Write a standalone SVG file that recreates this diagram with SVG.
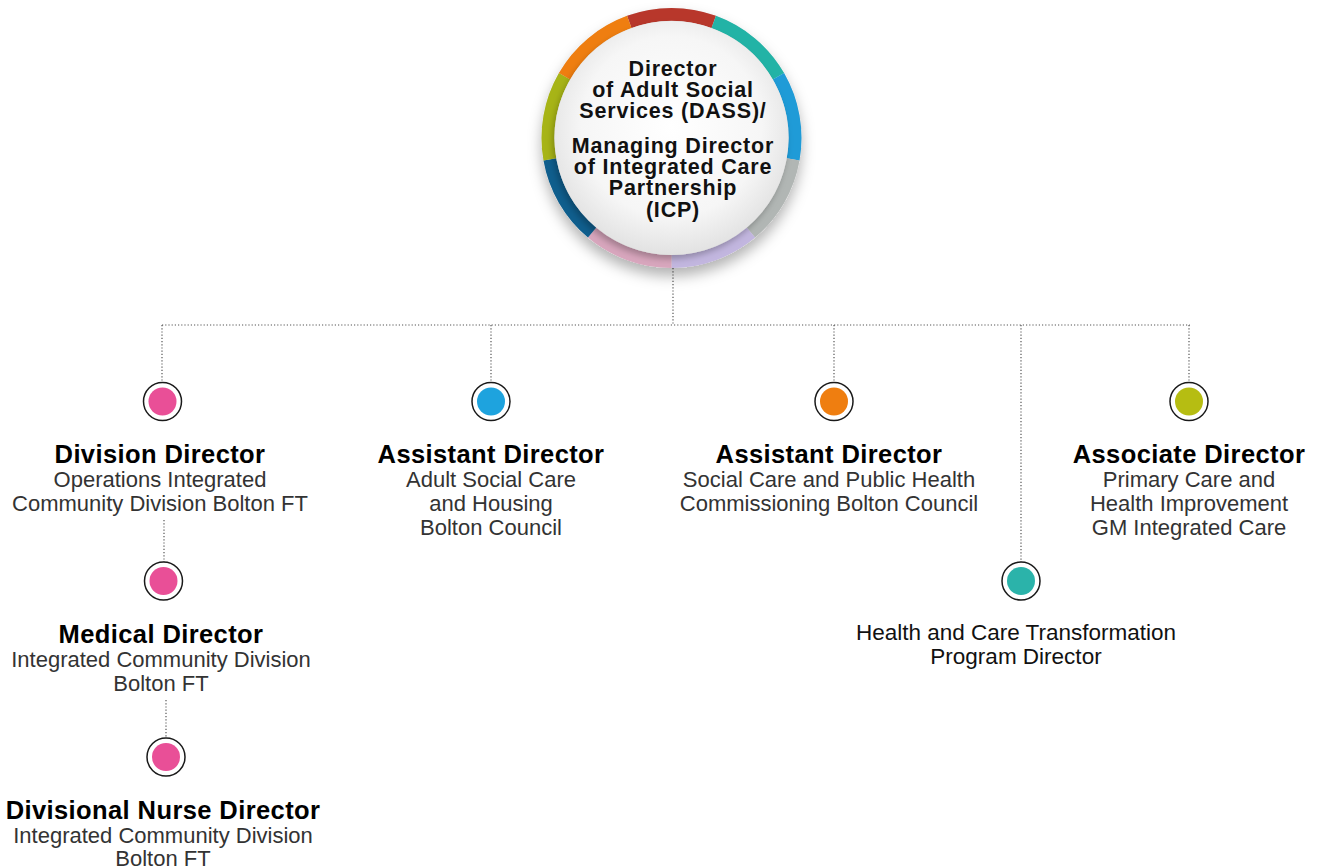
<svg xmlns="http://www.w3.org/2000/svg" width="1318" height="867" viewBox="0 0 1318 867">
  <defs>
    <style>
      .ttl { font-family: "Liberation Sans", Arial, sans-serif; font-weight: bold; font-size: 25.5px; letter-spacing: 0.4px; fill: #000; text-anchor: middle; }
      .sub { font-family: "Liberation Sans", Arial, sans-serif; font-size: 22px; fill: #333; text-anchor: middle; }
      .reg { font-family: "Liberation Sans", Arial, sans-serif; font-size: 22.5px; fill: #111; text-anchor: middle; }
      .hub { font-family: "Liberation Sans", Arial, sans-serif; font-weight: bold; font-size: 21.5px; letter-spacing: 0.8px; fill: #111; text-anchor: middle; }
      .dot { fill: none; stroke: #555; stroke-width: 1.2; stroke-dasharray: 1.2 2; }
      .ring { fill: none; stroke-width: 13; }
      .halo { fill: #fff; stroke: #1a1a1a; stroke-width: 1.5; }
    </style>
    <radialGradient id="face" cx="50%" cy="45%" r="55%">
      <stop offset="0" stop-color="#ffffff"/>
      <stop offset="0.7" stop-color="#f6f6f6"/>
      <stop offset="1" stop-color="#e2e2e2"/>
    </radialGradient>
    <filter id="shadow" x="-30%" y="-30%" width="160%" height="170%">
      <feDropShadow dx="0" dy="8" stdDeviation="7" flood-color="#000" flood-opacity="0.3"/>
    </filter>
    <filter id="innerShadow" x="-20%" y="-20%" width="140%" height="140%">
      <feDropShadow dx="-2" dy="4" stdDeviation="3" flood-color="#000" flood-opacity="0.25"/>
    </filter>
  </defs>

  <!-- connectors -->
  <g id="connectors">
    <line class="dot" x1="673" y1="268" x2="673" y2="325"/>
    <line class="dot" x1="162" y1="325" x2="1190" y2="325"/>
    <line class="dot" x1="162" y1="325" x2="162" y2="382"/>
    <line class="dot" x1="491" y1="325" x2="491" y2="382"/>
    <line class="dot" x1="834" y1="325" x2="834" y2="382"/>
    <line class="dot" x1="1021" y1="325" x2="1021" y2="562"/>
    <line class="dot" x1="1189" y1="325" x2="1189" y2="382"/>
    <line class="dot" x1="164" y1="520" x2="164" y2="562"/>
    <line class="dot" x1="166" y1="700" x2="166" y2="738"/>
  </g>

  <!-- central hub -->
  <g id="hub">
    <circle cx="671.5" cy="138" r="130" fill="#ddd" filter="url(#shadow)"/>
    <path class="ring" stroke="#b8372b" d="M629.26 21.95 A123.5 123.5 0 0 1 713.74 21.95"/>
    <path class="ring" stroke="#22b3a6" d="M713.74 21.95 A123.5 123.5 0 0 1 778.45 76.25"/>
    <path class="ring" stroke="#1f9bd7" d="M778.45 76.25 A123.5 123.5 0 0 1 793.13 159.44"/>
    <path class="ring" stroke="#b1b6b4" d="M793.13 159.44 A123.5 123.5 0 0 1 750.88 232.60"/>
    <path class="ring" stroke="#c2b6df" d="M750.88 232.60 A123.5 123.5 0 0 1 671.5 261.5"/>
    <path class="ring" stroke="#d8a6bd" d="M671.5 261.5 A123.5 123.5 0 0 1 592.12 232.60"/>
    <path class="ring" stroke="#0f5e8d" d="M592.12 232.60 A123.5 123.5 0 0 1 549.87 159.44"/>
    <path class="ring" stroke="#a7b416" d="M549.87 159.44 A123.5 123.5 0 0 1 564.55 76.25"/>
    <path class="ring" stroke="#ef7e10" d="M564.55 76.25 A123.5 123.5 0 0 1 629.26 21.95"/>
    <circle cx="671.5" cy="138" r="117" fill="url(#face)" filter="url(#innerShadow)"/>
    <text class="hub" x="673" y="76">Director</text>
    <text class="hub" x="673" y="97">of Adult Social</text>
    <text class="hub" x="673" y="118">Services (DASS)/</text>
    <text class="hub" x="673" y="153">Managing Director</text>
    <text class="hub" x="673" y="174">of Integrated Care</text>
    <text class="hub" x="673" y="195">Partnership</text>
    <text class="hub" x="673" y="217">(ICP)</text>
  </g>

  <g id="division-director">
    <circle class="halo" cx="162.5" cy="401.5" r="19"/>
    <circle cx="162.5" cy="401.5" r="14" fill="#e94f97"/>
    <text class="ttl" x="160" y="463">Division Director</text>
    <text class="sub" x="160" y="487">Operations Integrated</text>
    <text class="sub" x="160" y="511">Community Division Bolton FT</text>
  </g>

  <g id="medical-director">
    <circle class="halo" cx="163.5" cy="581" r="19"/>
    <circle cx="163.5" cy="581" r="14" fill="#e94f97"/>
    <text class="ttl" x="161" y="643">Medical Director</text>
    <text class="sub" x="161" y="667">Integrated Community Division</text>
    <text class="sub" x="161" y="691">Bolton FT</text>
  </g>

  <g id="divisional-nurse-director">
    <circle class="halo" cx="166" cy="757" r="19"/>
    <circle cx="166" cy="757" r="14" fill="#e94f97"/>
    <text class="ttl" x="163" y="819">Divisional Nurse Director</text>
    <text class="sub" x="163" y="843">Integrated Community Division</text>
    <text class="sub" x="163" y="866">Bolton FT</text>
  </g>

  <g id="assistant-director-asc">
    <circle class="halo" cx="491" cy="401.5" r="19"/>
    <circle cx="491" cy="401.5" r="14" fill="#1ea3de"/>
    <text class="ttl" x="491" y="463">Assistant Director</text>
    <text class="sub" x="491" y="487">Adult Social Care</text>
    <text class="sub" x="491" y="511">and Housing</text>
    <text class="sub" x="491" y="535">Bolton Council</text>
  </g>

  <g id="assistant-director-commissioning">
    <circle class="halo" cx="834" cy="401.5" r="19"/>
    <circle cx="834" cy="401.5" r="14" fill="#ef7e10"/>
    <text class="ttl" x="829" y="463">Assistant Director</text>
    <text class="sub" x="829" y="487">Social Care and Public Health</text>
    <text class="sub" x="829" y="511">Commissioning Bolton Council</text>
  </g>

  <g id="transformation-director">
    <circle class="halo" cx="1021" cy="581" r="19"/>
    <circle cx="1021" cy="581" r="14" fill="#2bb3aa"/>
    <text class="reg" x="1016" y="640">Health and Care Transformation</text>
    <text class="reg" x="1016" y="664">Program Director</text>
  </g>

  <g id="associate-director">
    <circle class="halo" cx="1189" cy="401.5" r="19"/>
    <circle cx="1189" cy="401.5" r="14" fill="#b6bd12"/>
    <text class="ttl" x="1189" y="463">Associate Director</text>
    <text class="sub" x="1189" y="487">Primary Care and</text>
    <text class="sub" x="1189" y="511">Health Improvement</text>
    <text class="sub" x="1189" y="535">GM Integrated Care</text>
  </g>
</svg>
